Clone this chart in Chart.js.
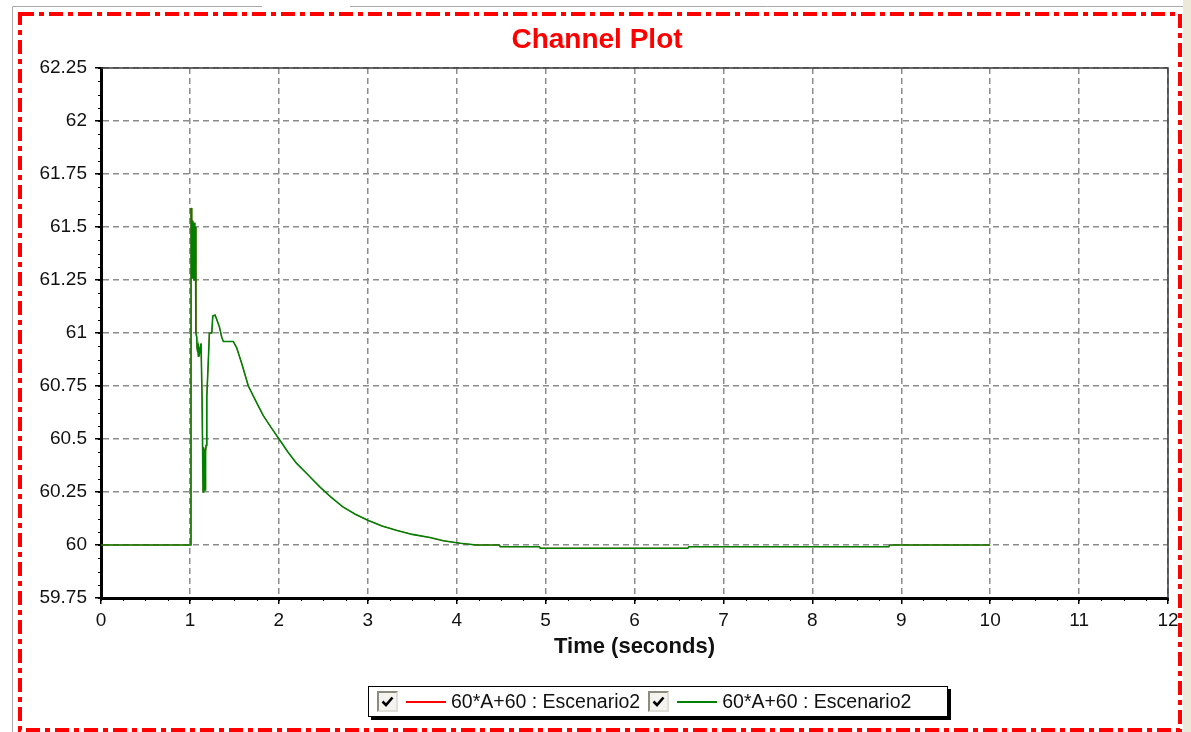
<!DOCTYPE html>
<html>
<head>
<meta charset="utf-8">
<title>Channel Plot</title>
<script src="https://cdn.jsdelivr.net/npm/chart.js@4.4.1/dist/chart.umd.min.js"></script>
<style>
  html, body { margin: 0; padding: 0; background: #fff; }
  #wrap { position: relative; width: 1191px; height: 732px; overflow: hidden; }
  #plot { position: absolute; left: 0; top: 0; }
  #legend {
    position: absolute; left: 368px; top: 686px; width: 578px; height: 29px;
    border: 1px solid #000; box-shadow: 3px 3px 0 #000; background: #fff;
    font-family: "Liberation Sans", Arial, sans-serif; font-size: 19.5px; color: #111;
    display: flex; align-items: center; white-space: nowrap;
  }
  .item { display: flex; align-items: center; margin-left: 8px; }
  .chk { width: 17px; height: 17px; border: 2px solid #8c8c7c; border-right-color: #e0e0d8; border-bottom-color: #e0e0d8; background: #f4f3ee; display: flex; align-items: center; justify-content: center; }
  .swatch { width: 40px; height: 0; border-top: 2px solid; margin: 0 5px 0 8px; }
</style>
</head>
<body>
<div id="wrap">
  <canvas id="plot" width="1191" height="732"></canvas>
  <div id="legend"></div>
</div>
<script>
// time axis (seconds) and the two channel traces (red one sits under the green one)
const timeSec = [
  0, 1.012, 1.013, 1.018, 1.022, 1.027, 1.032, 1.037, 1.042, 1.047, 1.052, 1.057, 1.062, 1.066,
  1.068, 1.077, 1.08, 1.085, 1.09, 1.095, 1.10, 1.11, 1.125, 1.134, 1.136, 1.145, 1.148, 1.155,
  1.16, 1.165, 1.17, 1.176, 1.182, 1.19, 1.208, 1.219, 1.246, 1.257, 1.283, 1.331, 1.358, 1.376,
  1.488, 1.526, 1.58, 1.657, 1.74, 1.825, 1.92, 2.01, 2.10, 2.20, 2.33, 2.46, 2.59, 2.72, 2.86,
  3.00, 3.16, 3.32, 3.50, 3.70, 3.85, 4.04, 4.22, 4.48, 4.49, 4.93, 4.94, 6.60, 6.61, 8.86, 8.87, 10.0
];
const escenarioGreen = [
  60, 60, 61.59, 61.30, 61.55, 61.26, 61.53, 61.27, 61.52, 61.25, 61.52, 61.26, 61.50, 61.22,
  61.00, 60.98, 60.93, 60.91, 60.95, 60.89, 60.93, 60.91, 60.95, 60.95, 60.71, 60.71, 60.25, 60.46,
  60.27, 60.45, 60.26, 60.44, 60.47, 60.70, 60.88, 61.00, 61.00, 61.08, 61.085, 61.03, 60.98, 60.96,
  60.96, 60.93, 60.86, 60.75, 60.68, 60.61, 60.55, 60.495, 60.44, 60.385, 60.33, 60.274, 60.225, 60.18, 60.145,
  60.117, 60.09, 60.07, 60.05, 60.035, 60.02, 60.008, 60.0, 60.0, 59.992, 59.992, 59.985, 59.985, 59.992, 59.992, 60.0, 60.0
];
const escenarioRed = escenarioGreen;

const xTicks = [0, 1, 2, 3, 4, 5, 6, 7, 8, 9, 10, 11, 12];
const yTicks = [59.75, 60, 60.25, 60.5, 60.75, 61, 61.25, 61.5, 61.75, 62, 62.25];
const seriesLabels = ['60*A+60 : Escenario2', '60*A+60 : Escenario2'];
const seriesColors = ['#ff0000', '#008000'];

const FONT = '"Liberation Sans", Arial, sans-serif';

function pts(ys) {
  return timeSec.map((t, i) => ({ x: t, y: ys[i] }));
}

const decor = {
  id: 'decor',
  beforeDraw(chart) {
    const c = chart.ctx;
    c.save();
    c.fillStyle = '#ece9d8';
    c.fillRect(1183, 0, 8, 732);
    c.strokeStyle = '#a8a8a8';
    c.lineWidth = 1;
    c.beginPath();
    c.moveTo(12.5, 6.5); c.lineTo(262, 6.5);
    c.moveTo(350, 6.5); c.lineTo(1183, 6.5);
    c.moveTo(12.5, 6.5); c.lineTo(12.5, 732);
    c.stroke();
    c.restore();
  },
  afterDraw(chart) {
    const c = chart.ctx, a = chart.chartArea;
    const xs = chart.scales.x, ys = chart.scales.y;
    c.save();
    // top and right frame
    c.strokeStyle = '#3a3a3a';
    c.lineWidth = 1.5;
    c.beginPath();
    c.moveTo(a.left, a.top); c.lineTo(a.right, a.top); c.lineTo(a.right, a.bottom);
    c.stroke();
    // minor ticks
    c.strokeStyle = '#000';
    c.lineWidth = 1;
    c.beginPath();
    for (let v = xs.min; v <= xs.max + 1e-9; v += 0.25) {
      const px = Math.round(xs.getPixelForValue(v)) + 0.5;
      c.moveTo(px, a.bottom); c.lineTo(px, a.bottom + 3);
    }
    for (let v = ys.min; v <= ys.max + 1e-9; v += 0.0625) {
      const py = Math.round(ys.getPixelForValue(v)) + 0.5;
      c.moveTo(a.left - 3, py); c.lineTo(a.left, py);
    }
    c.stroke();
    // red dash-dot outer frame
    c.strokeStyle = '#ff0000';
    c.lineWidth = 4;
    c.setLineDash([14, 5, 5, 5]);
    c.strokeRect(20, 14, 1160, 716);
    c.restore();
  }
};

const gridOpts = {
  color: '#8c8c8c', lineWidth: 1.5,
  tickLength: 6, tickColor: '#000', tickWidth: 1.5, tickBorderDash: []
};

const chart = new Chart(document.getElementById('plot'), {
  type: 'line',
  data: {
    datasets: [
      { label: seriesLabels[0], data: pts(escenarioRed), borderColor: seriesColors[0], borderWidth: 0.8, order: 1 },
      { label: seriesLabels[1], data: pts(escenarioGreen), borderColor: seriesColors[1], borderWidth: 1.6, order: 0 }
    ]
  },
  options: {
    responsive: false,
    animation: false,
    events: [],
    elements: { point: { radius: 0 }, line: { tension: 0 } },
    layout: { padding: { left: 26, right: 23, top: 0, bottom: 64 } },
    plugins: {
      legend: { display: false },
      tooltip: { enabled: false },
      title: {
        display: true,
        text: 'Channel Plot',
        color: '#ff0000',
        font: { family: FONT, size: 28, weight: 'bold', lineHeight: 1.2 },
        padding: { top: 23, bottom: 11.4 }
      }
    },
    scales: {
      x: {
        type: 'linear',
        min: 0, max: 12,
        afterBuildTicks: s => { s.ticks = xTicks.map(v => ({ value: v })); },
        afterFit: s => { s.height = 70; },
        ticks: { color: '#111', font: { family: FONT, size: 19 }, padding: 5, maxRotation: 0, callback: v => String(v) },
        grid: gridOpts,
        border: { color: '#000', width: 3, dash: [6, 4] },
        title: { display: true, text: 'Time (seconds)', color: '#111', font: { family: FONT, size: 22, weight: 'bold', lineHeight: 1.2 }, padding: { top: 0, bottom: 8 } }
      },
      y: {
        type: 'linear',
        min: 59.75, max: 62.25,
        afterBuildTicks: s => { s.ticks = yTicks.map(v => ({ value: v })); },
        afterFit: s => { s.width = 75; },
        ticks: { color: '#111', font: { family: FONT, size: 19 }, padding: 8, callback: v => String(v) },
        grid: gridOpts,
        border: { color: '#000', width: 3, dash: [6, 4] }
      }
    }
  },
  plugins: [decor]
});

// HTML legend with checkbox look, built from the datasets
const legend = document.getElementById('legend');
chart.data.datasets.forEach(ds => {
  const item = document.createElement('div');
  item.className = 'item';
  item.innerHTML =
    '<span class="chk"><svg width="13" height="13" viewBox="0 0 13 13"><path d="M1.5 6.5 L5 10 L11.5 2.5" fill="none" stroke="#000" stroke-width="2.6"/></svg></span>' +
    '<span class="swatch" style="border-top-color:' + ds.borderColor + '"></span>' +
    '<span></span>';
  item.lastChild.textContent = ds.label;
  legend.appendChild(item);
});
</script>
</body>
</html>
